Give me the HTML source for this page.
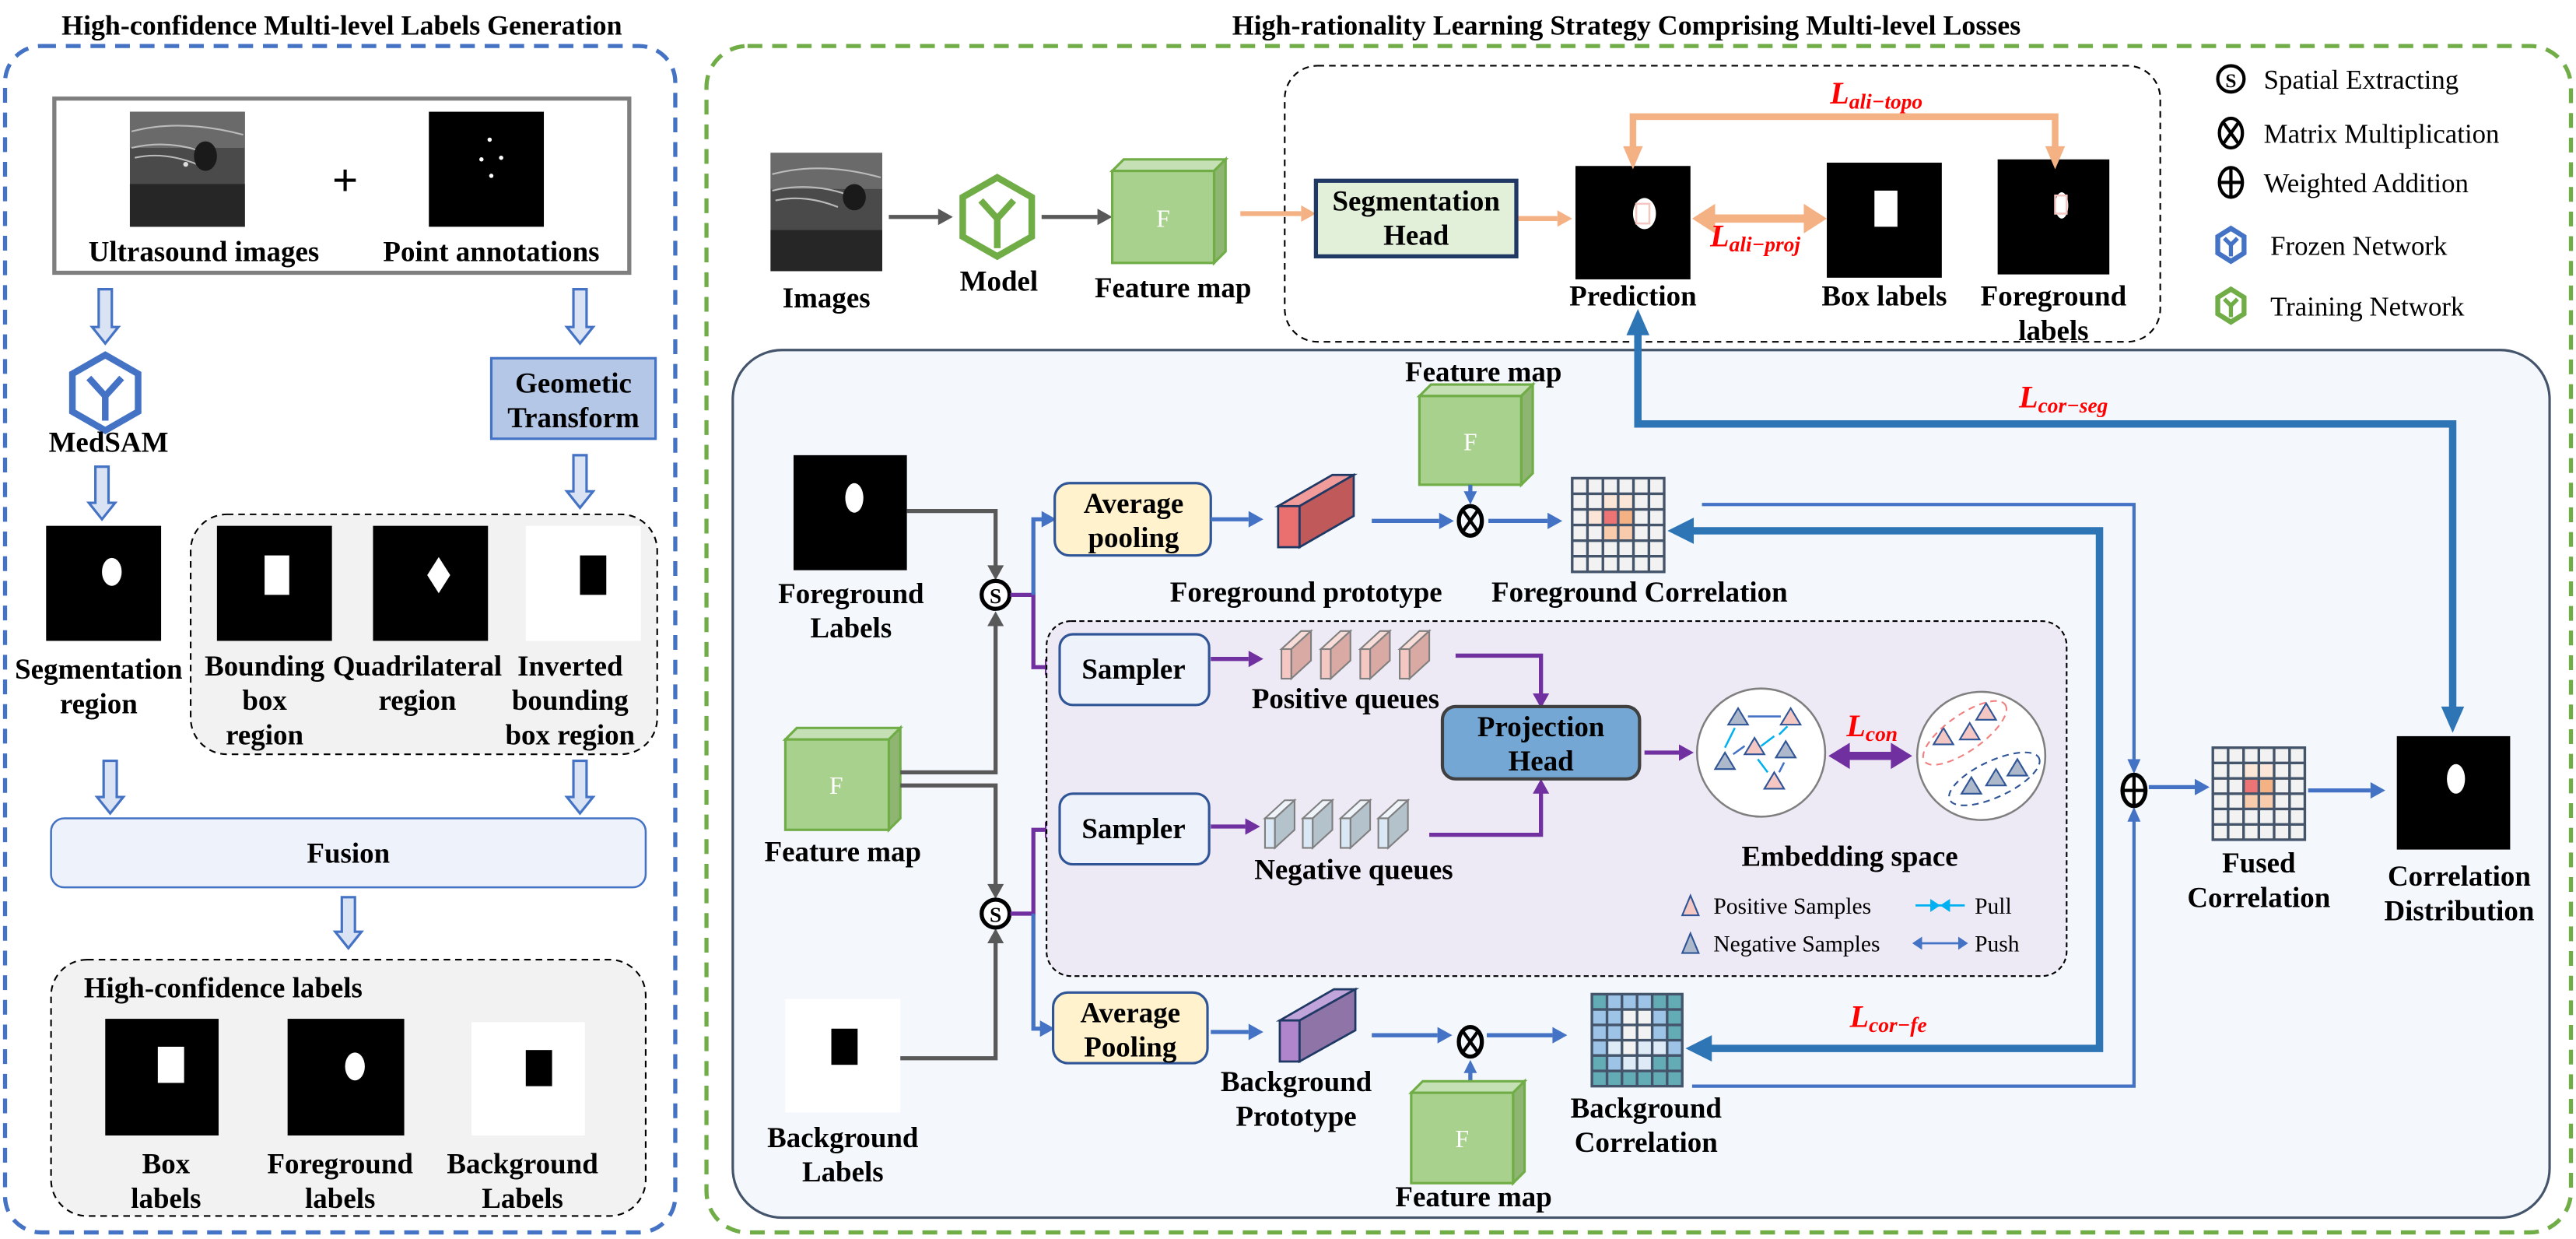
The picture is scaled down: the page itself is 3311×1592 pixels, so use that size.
<!DOCTYPE html>
<html><head><meta charset="utf-8"><style>html,body{margin:0;padding:0;background:#fff}svg{display:block}text{font-family:"Liberation Serif",serif}</style></head>
<body>
<svg xmlns="http://www.w3.org/2000/svg" width="3311" height="1592" viewBox="0 0 1568 754">
<rect width="1568" height="754" fill="#fff"/>
<g font-weight="bold" font-size="17" text-anchor="middle" fill="#000">
<text x="208" y="21">High-confidence Multi-level Labels Generation</text>
<text x="990" y="21">High-rationality Learning Strategy Comprising Multi-level Losses</text>
</g>
<rect x="3" y="28" width="408" height="722" rx="22" fill="none" stroke="#4472c4" stroke-width="2.5" stroke-dasharray="9,6"/>
<rect x="430" y="28" width="1135" height="722" rx="25" fill="none" stroke="#70ad47" stroke-width="2.5" stroke-dasharray="9,6"/>

<!-- LEFT -->
<rect x="33" y="60" width="350" height="106" fill="#fff" stroke="#7f7f7f" stroke-width="2.5"/>
<g>
<rect x="79" y="68" width="70" height="70" fill="#4a4a4a"/>
<rect x="79" y="68" width="70" height="22" fill="#6a6a6a"/>
<rect x="79" y="112" width="70" height="26" fill="#262626"/>
<path d="M80,80 Q110,72 148,82 M80,90 Q105,84 130,95 M82,96 Q100,92 120,100" stroke="#bbb" stroke-width="1" fill="none"/>
<ellipse cx="125" cy="95" rx="7" ry="9" fill="#1a1a1a"/>
<circle cx="113" cy="100" r="1.5" fill="#ddd"/>
</g>
<text x="210" y="119" font-size="28" font-weight="bold" text-anchor="middle">+</text>
<rect x="261" y="68" width="70" height="70" fill="#000"/>
<circle cx="298" cy="85" r="1.3" fill="#fff"/><circle cx="293" cy="97" r="1.3" fill="#fff"/><circle cx="305" cy="96" r="1.3" fill="#fff"/><circle cx="299" cy="107" r="1.3" fill="#fff"/>
<g font-weight="bold" font-size="17.5" text-anchor="middle">
<text x="124" y="159">Ultrasound images</text><text x="299" y="159">Point annotations</text>
</g>
<g fill="#dae3f3" stroke="#4472c4" stroke-width="1.5">
<polygon points="60,176 68,176 68,199 72,199 64,209 56,199 60,199"/>
<polygon points="349,176 357,176 357,199 361,199 353,209 345,199 349,199"/>
<polygon points="58,284 66,284 66,306 70,306 62,316 54,306 58,306"/>
<polygon points="349,277 357,277 357,299 361,299 353,309 345,299 349,299"/>
<polygon points="63,463 71,463 71,485 75,485 67,495 59,485 63,485"/>
<polygon points="349,463 357,463 357,485 361,485 353,495 345,485 349,485"/>
<polygon points="208,546 216,546 216,567 220,567 212,577 204,567 208,567"/>
</g>
<polygon points="64,216 84,227.5 84,250.5 64,262 44,250.5 44,227.5" fill="none" stroke="#4472c4" stroke-width="4"/>
<path d="M54,230 L64,241 L74,230 M64,241 V256" fill="none" stroke="#4472c4" stroke-width="4"/>
<text x="66" y="275" font-weight="bold" font-size="17.5" text-anchor="middle">MedSAM</text>
<rect x="299" y="218" width="100" height="49" fill="#b4c7e7" stroke="#4472c4" stroke-width="1.5"/>
<g font-weight="bold" font-size="17.5" text-anchor="middle">
<text x="349" y="239">Geometic</text><text x="349" y="260">Transform</text></g>
<rect x="28" y="320" width="70" height="70" fill="#000"/>
<ellipse cx="68" cy="348" rx="6" ry="8.5" fill="#fff"/>
<rect x="116" y="313" width="284" height="146" rx="22" fill="#f2f2f2" stroke="#000" stroke-dasharray="4,3"/>
<rect x="132" y="320" width="70" height="70" fill="#000"/><rect x="161" y="338" width="15" height="24" fill="#fff"/>
<rect x="227" y="320" width="70" height="70" fill="#000"/><polygon points="267,339 274,350 267,361 260,350" fill="#fff"/>
<rect x="320" y="320" width="70" height="70" fill="#fff"/><rect x="353" y="338" width="16" height="24" fill="#000"/>
<g font-weight="bold" font-size="17.5" text-anchor="middle">
<text x="60" y="413">Segmentation</text><text x="60" y="434">region</text>
<text x="161" y="411">Bounding</text><text x="161" y="432">box</text><text x="161" y="453">region</text>
<text x="254" y="411">Quadrilateral</text><text x="254" y="432">region</text>
<text x="347" y="411">Inverted</text><text x="347" y="432">bounding</text><text x="347" y="453">box region</text>
</g>
<rect x="31" y="498" width="362" height="42" rx="8" fill="#eef3fb" stroke="#4472c4" stroke-width="1.2"/>
<text x="212" y="525" font-weight="bold" font-size="17.5" text-anchor="middle">Fusion</text>
<rect x="31" y="584" width="362" height="156" rx="22" fill="#f2f2f2" stroke="#000" stroke-dasharray="4,3"/>
<text x="51" y="607" font-weight="bold" font-size="17.5">High-confidence labels</text>
<rect x="64" y="620" width="69" height="71" fill="#000"/><rect x="96" y="637" width="16" height="22" fill="#fff"/>
<rect x="175" y="620" width="71" height="71" fill="#000"/><ellipse cx="216" cy="649" rx="6" ry="8.5" fill="#fff"/>
<rect x="287" y="622" width="69" height="69" fill="#fff"/><rect x="320" y="639" width="16" height="22" fill="#000"/>
<g font-weight="bold" font-size="17.5" text-anchor="middle">
<text x="101" y="714">Box</text><text x="101" y="735">labels</text>
<text x="207" y="714">Foreground</text><text x="207" y="735">labels</text>
<text x="318" y="714">Background</text><text x="318" y="735">Labels</text>
</g>

<!-- RIGHT TOP -->
<rect x="782" y="40" width="533" height="168" rx="20" fill="#fff" stroke="#000" stroke-dasharray="4,3"/>
<g>
<rect x="469" y="93" width="68" height="72" fill="#4a4a4a"/>
<rect x="469" y="93" width="68" height="22" fill="#6a6a6a"/>
<rect x="469" y="140" width="68" height="25" fill="#262626"/>
<path d="M470,106 Q500,98 536,108 M470,116 Q495,110 520,120 M472,122 Q490,118 510,126" stroke="#bbb" stroke-width="1" fill="none"/>
<ellipse cx="520" cy="120" rx="7" ry="8" fill="#1a1a1a"/>
</g>
<g stroke="#595959" stroke-width="2.5" fill="#595959">
<line x1="541" y1="132" x2="572" y2="132"/><polygon points="580,132 571,127 571,137" stroke="none"/>
<line x1="634" y1="132" x2="668" y2="132"/><polygon points="677,132 668,127 668,137" stroke="none"/>
</g>
<polygon points="607,108 628,120 628,144 607,156 586,144 586,120" fill="none" stroke="#70ad47" stroke-width="4"/>
<path d="M597,122 L607,133 L617,122 M607,133 V151" fill="none" stroke="#70ad47" stroke-width="4"/>
<g stroke="#70ad47" stroke-width="1.5">
<polygon points="677,104 684,97 746,97 739,104" fill="#c5e0b4"/>
<polygon points="739,104 746,97 746,153 739,160" fill="#8fb573"/>
<rect x="677" y="104" width="62" height="56" fill="#a9d18e"/></g>
<text x="708" y="138" font-family="Liberation Sans,sans-serif" font-size="15" fill="#fff" text-anchor="middle">F</text>
<g font-weight="bold" font-size="17.5" text-anchor="middle">
<text x="503" y="187">Images</text><text x="608" y="177">Model</text><text x="714" y="181">Feature map</text></g>
<g stroke="#f4b183" stroke-width="3" fill="#f4b183">
<line x1="755" y1="130" x2="792" y2="130"/><polygon points="801,130 792,125 792,135" stroke="none"/>
<line x1="924" y1="133" x2="948" y2="133"/><polygon points="957,133 948,128 948,138" stroke="none"/>
</g>
<rect x="801" y="110" width="122" height="46" fill="#e2f0d9" stroke="#1f3864" stroke-width="2.5"/>
<g font-weight="bold" font-size="17.5" text-anchor="middle">
<text x="862" y="128">Segmentation</text><text x="862" y="149">Head</text></g>
<rect x="959" y="101" width="70" height="69" fill="#000"/>
<ellipse cx="1001" cy="130" rx="7" ry="9.5" fill="#fff"/><rect x="996" y="124" width="8" height="12" fill="none" stroke="#f4c7c3" stroke-width="1.2"/>
<rect x="1112" y="99" width="70" height="70" fill="#000"/><rect x="1141" y="116" width="14" height="22" fill="#fff"/>
<rect x="1216" y="97" width="68" height="70" fill="#000"/>
<ellipse cx="1255" cy="125" rx="4" ry="8" fill="#fff"/><rect x="1251" y="119" width="7" height="11" fill="none" stroke="#f4c7c3" stroke-width="1.2"/>
<g font-weight="bold" font-size="17.5" text-anchor="middle">
<text x="994" y="186">Prediction</text><text x="1147" y="186">Box labels</text><text x="1250" y="186">Foreground</text><text x="1250" y="207">labels</text></g>
<polyline points="994,93 994,71 1251,71 1251,93" fill="none" stroke="#f4b183" stroke-width="4"/>
<polygon points="994,103 988,89 1000,89" fill="#f4b183"/><polygon points="1251,103 1245,89 1257,89" fill="#f4b183"/>
<line x1="1042" y1="133" x2="1100" y2="133" stroke="#f4b183" stroke-width="5"/>
<polygon points="1030,133 1044,124 1044,142" fill="#f4b183"/><polygon points="1112,133 1098,124 1098,142" fill="#f4b183"/>
<g fill="#ff0000" font-weight="bold" font-style="italic">
<text x="1114" y="63" font-size="19">L<tspan font-size="13" dy="3">ali−topo</tspan></text>
<text x="1041" y="150" font-size="19">L<tspan font-size="13" dy="3">ali−proj</tspan></text>
</g>
<g font-size="16.5">
<circle cx="1358" cy="48" r="8" fill="none" stroke="#000" stroke-width="2"/><text x="1358" y="53" font-size="12" font-weight="bold" text-anchor="middle">S</text>
<text x="1378" y="54">Spatial Extracting</text>
<ellipse cx="1358" cy="81" rx="7" ry="9" fill="none" stroke="#000" stroke-width="2"/><path d="M1353,74 L1363,88 M1363,74 L1353,88" stroke="#000" stroke-width="2"/>
<text x="1378" y="87">Matrix Multiplication</text>
<ellipse cx="1358" cy="111" rx="7" ry="9" fill="none" stroke="#000" stroke-width="2"/><path d="M1351,111 H1365 M1358,102 V120" stroke="#000" stroke-width="2"/>
<text x="1378" y="117">Weighted Addition</text>
<polygon points="1358,139 1366,144 1366,154 1358,159 1350,154 1350,144" fill="none" stroke="#4472c4" stroke-width="3"/>
<path d="M1354,145 L1358,149 L1362,145 M1358,149 V156" stroke="#4472c4" stroke-width="2.5" fill="none"/>
<text x="1382" y="155">Frozen Network</text>
<polygon points="1358,176 1366,181 1366,191 1358,196 1350,191 1350,181" fill="none" stroke="#70ad47" stroke-width="3"/>
<path d="M1354,182 L1358,186 L1362,182 M1358,186 V193" stroke="#70ad47" stroke-width="2.5" fill="none"/>
<text x="1382" y="192">Training Network</text>
</g>

<rect x="446" y="213" width="1106" height="528" rx="30" fill="#f4f8fd" stroke="#44546a" stroke-width="1.5"/>
<polyline points="997,200 997,258 1493,258 1493,432" fill="none" stroke="#2e75b6" stroke-width="4.5"/>
<polygon points="997,188 990,204 1004,204" fill="#2e75b6"/><polygon points="1493,446 1486,430 1500,430" fill="#2e75b6"/>
<text x="1229" y="248" fill="#ff0000" font-weight="bold" font-style="italic" font-size="19">L<tspan font-size="13" dy="3">cor−seg</tspan></text>
<g stroke="#70ad47" stroke-width="1.5">
<polygon points="864,241 871,234 933,234 926,241" fill="#c5e0b4"/>
<polygon points="926,241 933,234 933,288 926,295" fill="#8fb573"/>
<rect x="864" y="241" width="62" height="54" fill="#a9d18e"/></g>
<text x="895" y="274" font-family="Liberation Sans,sans-serif" font-size="15" fill="#fff" text-anchor="middle">F</text>
<text x="903" y="232" font-weight="bold" font-size="17.5" text-anchor="middle">Feature map</text>
<rect x="483" y="277" width="69" height="70" fill="#000"/><ellipse cx="520" cy="303" rx="5.5" ry="9" fill="#fff"/>
<g stroke="#70ad47" stroke-width="1.5">
<polygon points="478,450 485,443 548,443 541,450" fill="#c5e0b4"/>
<polygon points="541,450 548,443 548,498 541,505" fill="#8fb573"/>
<rect x="478" y="450" width="63" height="55" fill="#a9d18e"/></g>
<text x="509" y="483" font-family="Liberation Sans,sans-serif" font-size="15" fill="#fff" text-anchor="middle">F</text>
<rect x="478" y="608" width="70" height="69" fill="#fff"/><rect x="506" y="626" width="16" height="22" fill="#000"/>
<g font-weight="bold" font-size="17.5" text-anchor="middle">
<text x="518" y="367">Foreground</text><text x="518" y="388">Labels</text>
<text x="513" y="524">Feature map</text>
<text x="513" y="698">Background</text><text x="513" y="719">Labels</text></g>
<g fill="none" stroke="#595959" stroke-width="2.5">
<polyline points="552,311 606,311 606,346"/><polyline points="548,470 606,470 606,379"/>
<polyline points="548,478 606,478 606,540"/><polyline points="548,644 606,644 606,572"/></g>
<g fill="#595959"><polygon points="606,353 601,344 611,344"/><polygon points="606,372 601,381 611,381"/><polygon points="606,547 601,538 611,538"/><polygon points="606,565 601,574 611,574"/></g>
<g fill="#fff" stroke="#000" stroke-width="2.5"><circle cx="606" cy="362" r="8.5"/><circle cx="606" cy="556" r="8.5"/></g>
<g font-weight="bold" font-size="13" text-anchor="middle"><text x="606" y="367">S</text><text x="606" y="561">S</text></g>
<polyline points="615,362 629,362 629,406 638,406" fill="none" stroke="#7030a0" stroke-width="2.5"/>
<polygon points="645,406 636,401 636,411" fill="#7030a0"/>
<polyline points="629,362 629,316 635,316" fill="none" stroke="#4472c4" stroke-width="2.5"/>
<polygon points="643,316 634,311 634,321" fill="#4472c4"/>
<polyline points="615,556 629,556 629,505 638,505" fill="none" stroke="#7030a0" stroke-width="2.5"/>
<polygon points="645,505 636,500 636,510" fill="#7030a0"/>
<polyline points="629,556 629,626 634,626" fill="none" stroke="#4472c4" stroke-width="2.5"/>
<polygon points="642,626 633,621 633,631" fill="#4472c4"/>
<rect x="642" y="294" width="95" height="44" rx="9" fill="#fff2cc" stroke="#2f5597" stroke-width="1.5"/>
<g font-weight="bold" font-size="17.5" text-anchor="middle"><text x="690" y="312">Average</text><text x="690" y="333">pooling</text></g>
<g stroke="#1f3864" stroke-width="1.3">
<polygon points="778,308 811,289 824,289 791,308" fill="#f19b9b"/>
<polygon points="791,308 824,289 824,314 791,333" fill="#c05a5a"/>
<rect x="778" y="308" width="13" height="25" fill="#ea7070"/></g>
<g stroke="#4472c4" stroke-width="2.5">
<line x1="737" y1="316" x2="760" y2="316"/><line x1="835" y1="317" x2="876" y2="317"/><line x1="906" y1="317" x2="942" y2="317"/>
<line x1="895" y1="295" x2="895" y2="301"/>
<line x1="737" y1="628" x2="760" y2="628"/><line x1="835" y1="630" x2="875" y2="630"/><line x1="905" y1="630" x2="945" y2="630"/>
<line x1="895" y1="658" x2="895" y2="651"/></g>
<g fill="#4472c4"><polygon points="769,316 760,311 760,321"/><polygon points="885,317 876,312 876,322"/><polygon points="951,317 942,312 942,322"/><polygon points="895,307 891,299 899,299"/>
<polygon points="769,628 760,623 760,633"/><polygon points="884,630 875,625 875,635"/><polygon points="954,630 945,625 945,635"/><polygon points="895,645 891,653 899,653"/></g>
<g fill="none" stroke="#000" stroke-width="2.5"><ellipse cx="895" cy="317" rx="7" ry="9"/><ellipse cx="895" cy="634" rx="7" ry="9"/>
<path d="M890,310 L900,324 M900,310 L890,324 M890,627 L900,641 M900,627 L890,641" stroke-width="2"/></g>
<rect x="957" y="291" width="56" height="57" fill="#f2f2f2"/>
<rect x="975.7" y="300.5" width="9.3" height="9.5" fill="#fbe5d6"/><rect x="985" y="300.5" width="9.3" height="9.5" fill="#fbe5d6"/>
<rect x="975.7" y="310" width="9.3" height="9.5" fill="#ec7474"/><rect x="985" y="310" width="9.3" height="9.5" fill="#f4b183"/>
<rect x="966.3" y="310" width="9.4" height="9.5" fill="#fbe5d6"/>
<rect x="975.7" y="319.5" width="9.3" height="9.5" fill="#f8cbad"/><rect x="985" y="319.5" width="9.3" height="9.5" fill="#f8cbad"/>
<g stroke="#44546a" stroke-width="1.6" fill="none"><rect x="957" y="291" width="56" height="57"/>
<path d="M966.3,291V348M975.7,291V348M985,291V348M994.3,291V348M1003.7,291V348M957,300.5H1013M957,310H1013M957,319.5H1013M957,329H1013M957,338.5H1013"/></g>
<g font-weight="bold" font-size="17.5" text-anchor="middle"><text x="795" y="366">Foreground prototype</text><text x="998" y="366">Foreground Correlation</text></g>
<rect x="637" y="378" width="621" height="216" rx="15" fill="#eeeaf5" stroke="#000" stroke-dasharray="3,2"/>
<rect x="645" y="386" width="91" height="43" rx="8" fill="#eef2fb" stroke="#2f5597" stroke-width="1.5"/>
<rect x="645" y="483" width="91" height="43" rx="8" fill="#eef2fb" stroke="#2f5597" stroke-width="1.5"/>
<g font-weight="bold" font-size="17.5" text-anchor="middle"><text x="690" y="413">Sampler</text><text x="690" y="510">Sampler</text></g>
<g stroke="#7030a0" stroke-width="2.5" fill="none">
<line x1="737" y1="401" x2="760" y2="401"/><line x1="737" y1="503" x2="758" y2="503"/>
<polyline points="886,399 938,399 938,423"/><polyline points="870,508 938,508 938,482"/>
<line x1="1001" y1="458" x2="1022" y2="458"/></g>
<g fill="#7030a0"><polygon points="769,401 760,396 760,406"/><polygon points="767,503 758,498 758,508"/><polygon points="938,431 933,422 943,422"/><polygon points="938,474 933,483 943,483"/><polygon points="1031,458 1022,453 1022,463"/></g>
<g stroke="#7f7f7f" stroke-width="1">
<polygon points="780,395 792,384 798,384 786,395" fill="#f8dcd8"/><polygon points="786,395 798,384 798,402 786,413" fill="#d9a9a4"/><rect x="780" y="395" width="6" height="18" fill="#f4c7c3"/>
<polygon points="804,395 816,384 822,384 810,395" fill="#f8dcd8"/><polygon points="810,395 822,384 822,402 810,413" fill="#d9a9a4"/><rect x="804" y="395" width="6" height="18" fill="#f4c7c3"/>
<polygon points="828,395 840,384 846,384 834,395" fill="#f8dcd8"/><polygon points="834,395 846,384 846,402 834,413" fill="#d9a9a4"/><rect x="828" y="395" width="6" height="18" fill="#f4c7c3"/>
<polygon points="852,395 864,384 870,384 858,395" fill="#f8dcd8"/><polygon points="858,395 870,384 870,402 858,413" fill="#d9a9a4"/><rect x="852" y="395" width="6" height="18" fill="#f4c7c3"/>
<polygon points="770,498 782,487 788,487 776,498" fill="#eef4fa"/><polygon points="776,498 788,487 788,505 776,516" fill="#b4c2cc"/><rect x="770" y="498" width="6" height="18" fill="#dae8f5"/>
<polygon points="793,498 805,487 811,487 799,498" fill="#eef4fa"/><polygon points="799,498 811,487 811,505 799,516" fill="#b4c2cc"/><rect x="793" y="498" width="6" height="18" fill="#dae8f5"/>
<polygon points="816,498 828,487 834,487 822,498" fill="#eef4fa"/><polygon points="822,498 834,487 834,505 822,516" fill="#b4c2cc"/><rect x="816" y="498" width="6" height="18" fill="#dae8f5"/>
<polygon points="839,498 851,487 857,487 845,498" fill="#eef4fa"/><polygon points="845,498 857,487 857,505 845,516" fill="#b4c2cc"/><rect x="839" y="498" width="6" height="18" fill="#dae8f5"/>
</g>
<g font-weight="bold" font-size="17.5" text-anchor="middle"><text x="819" y="431">Positive queues</text><text x="824" y="535">Negative queues</text></g>
<rect x="878" y="430" width="120" height="44" rx="8" fill="#75a7d4" stroke="#404040" stroke-width="2"/>
<g font-weight="bold" font-size="17.5" text-anchor="middle"><text x="938" y="448">Projection</text><text x="938" y="469">Head</text></g>
<circle cx="1072" cy="458" r="39" fill="#fff" stroke="#7f7f7f" stroke-width="1.2"/>
<circle cx="1206" cy="460" r="39" fill="#fff" stroke="#7f7f7f" stroke-width="1.2"/>
<g stroke="#2f5597" stroke-width="1">
<polygon points="1058,431 1064,441 1052,441" fill="#adb9ca"/><polygon points="1090,431 1096,441 1084,441" fill="#f4c7c3"/>
<polygon points="1068,449 1074,459 1062,459" fill="#f4c7c3"/><polygon points="1087,451 1093,461 1081,461" fill="#adb9ca"/>
<polygon points="1050,458 1056,468 1044,468" fill="#adb9ca"/><polygon points="1080,470 1086,480 1074,480" fill="#f4c7c3"/>
<polygon points="1209,428 1215,438 1203,438" fill="#f4c7c3"/><polygon points="1183,443 1189,453 1177,453" fill="#f4c7c3"/><polygon points="1199,440 1205,450 1193,450" fill="#f4c7c3"/>
<polygon points="1200,473 1206,483 1194,483" fill="#adb9ca"/><polygon points="1215,468 1221,478 1209,478" fill="#adb9ca"/><polygon points="1228,462 1234,472 1222,472" fill="#adb9ca"/>
</g>
<g stroke="#4472c4" stroke-width="1.2" fill="none"><line x1="1064" y1="436" x2="1084" y2="436"/><line x1="1062" y1="454" x2="1055" y2="459"/><line x1="1086" y1="464" x2="1083" y2="470"/></g>
<g stroke="#00b0f0" stroke-width="1.2" fill="none"><line x1="1056" y1="443" x2="1050" y2="455"/><line x1="1088" y1="442" x2="1083" y2="447"/><line x1="1072" y1="454" x2="1080" y2="448"/><line x1="1070" y1="462" x2="1076" y2="470"/></g>
<ellipse cx="1196" cy="446" rx="30" ry="11" transform="rotate(-35 1196 446)" fill="none" stroke="#f08080" stroke-dasharray="4,3"/>
<ellipse cx="1214" cy="474" rx="30" ry="11" transform="rotate(-25 1214 474)" fill="none" stroke="#2f5597" stroke-dasharray="4,3"/>
<line x1="1124" y1="460" x2="1153" y2="460" stroke="#7030a0" stroke-width="5"/>
<polygon points="1113,460 1126,452 1126,468" fill="#7030a0"/><polygon points="1164,460 1151,452 1151,468" fill="#7030a0"/>
<text x="1124" y="448" fill="#ff0000" font-weight="bold" font-style="italic" font-size="19">L<tspan font-size="13" dy="3">con</tspan></text>
<text x="1126" y="527" font-weight="bold" font-size="17.5" text-anchor="middle">Embedding space</text>
<g font-size="14">
<polygon points="1029,545 1034,557 1024,557" fill="#f4c7c3" stroke="#2f5597"/><text x="1043" y="556">Positive Samples</text>
<polygon points="1029,568 1034,580 1024,580" fill="#adb9ca" stroke="#2f5597"/><text x="1043" y="579">Negative Samples</text>
<line x1="1166" y1="551" x2="1196" y2="551" stroke="#00b0f0" stroke-width="1.3"/><polygon points="1181,551 1175,547 1175,555" fill="#00b0f0"/><polygon points="1181,551 1187,547 1187,555" fill="#00b0f0"/>
<text x="1202" y="556">Pull</text>
<line x1="1168" y1="574" x2="1194" y2="574" stroke="#4472c4" stroke-width="1.3"/><polygon points="1164,574 1170,570 1170,578" fill="#4472c4"/><polygon points="1198,574 1192,570 1192,578" fill="#4472c4"/>
<text x="1202" y="579">Push</text></g>
<rect x="641" y="604" width="94" height="43" rx="9" fill="#fff2cc" stroke="#2f5597" stroke-width="1.5"/>
<g font-weight="bold" font-size="17.5" text-anchor="middle"><text x="688" y="622">Average</text><text x="688" y="643">Pooling</text></g>
<g stroke="#1f3864" stroke-width="1.3">
<polygon points="779,621 812,602 825,602 791,621" fill="#c1a5da"/>
<polygon points="791,621 825,602 825,627 791,646" fill="#8f74a8"/>
<rect x="779" y="621" width="12" height="25" fill="#b085cc"/></g>
<g stroke="#70ad47" stroke-width="1.5">
<polygon points="859,665 866,658 928,658 921,665" fill="#c5e0b4"/>
<polygon points="921,665 928,658 928,713 921,720" fill="#8fb573"/>
<rect x="859" y="665" width="62" height="55" fill="#a9d18e"/></g>
<text x="890" y="698" font-family="Liberation Sans,sans-serif" font-size="15" fill="#fff" text-anchor="middle">F</text>
<rect x="969" y="605" width="55" height="56" fill="#63abb5"/>
<g fill="#9dc3e6">
<rect x="978.2" y="605" width="27.5" height="9.3"/>
<rect x="969" y="614.3" width="18.3" height="18.7"/><rect x="1005.7" y="614.3" width="9.2" height="18.7"/>
<rect x="969" y="633" width="9.2" height="9.3"/><rect x="1014.8" y="633" width="9.2" height="9.3"/>
<rect x="978.2" y="642.3" width="9.1" height="9.4"/></g>
<g fill="#f2f2f2"><rect x="987.3" y="614.3" width="18.4" height="18.7"/><rect x="987.3" y="633" width="9.2" height="9.3"/></g>
<g fill="#deebf7"><rect x="978.2" y="633" width="9.1" height="9.3"/><rect x="996.5" y="633" width="18.3" height="9.3"/><rect x="987.3" y="642.3" width="18.4" height="9.4"/></g>
<g stroke="#44546a" stroke-width="1.6" fill="none"><rect x="969" y="605" width="55" height="56"/>
<path d="M978.2,605V661M987.3,605V661M996.5,605V661M1005.7,605V661M1014.8,605V661M969,614.3H1024M969,623.7H1024M969,633H1024M969,642.3H1024M969,651.7H1024"/></g>
<g font-weight="bold" font-size="17.5" text-anchor="middle">
<text x="789" y="664">Background</text><text x="789" y="685">Prototype</text>
<text x="897" y="734">Feature map</text>
<text x="1002" y="680">Background</text><text x="1002" y="701">Correlation</text></g>
<polyline points="1028,323 1278,323 1278,638 1038,638" fill="none" stroke="#2e75b6" stroke-width="4.5"/>
<polygon points="1015,323 1031,315 1031,331" fill="#2e75b6"/><polygon points="1026,638 1042,630 1042,646" fill="#2e75b6"/>
<text x="1126" y="625" fill="#ff0000" font-weight="bold" font-style="italic" font-size="19">L<tspan font-size="13" dy="3">cor−fe</tspan></text>
<polyline points="1036,307 1299,307 1299,463" fill="none" stroke="#4472c4" stroke-width="2"/>
<polyline points="1030,661 1299,661 1299,499" fill="none" stroke="#4472c4" stroke-width="2"/>
<polygon points="1299,471 1295,462 1303,462" fill="#4472c4"/><polygon points="1299,491 1295,500 1303,500" fill="#4472c4"/>
<ellipse cx="1299" cy="481" rx="7" ry="9.5" fill="#fff" stroke="#000" stroke-width="2.5"/>
<path d="M1292,481 H1306 M1299,472 V490" stroke="#000" stroke-width="2"/>
<line x1="1308" y1="479" x2="1336" y2="479" stroke="#4472c4" stroke-width="2.5"/><polygon points="1345,479 1336,474 1336,484" fill="#4472c4"/>
<line x1="1405" y1="481" x2="1443" y2="481" stroke="#4472c4" stroke-width="2.5"/><polygon points="1452,481 1443,476 1443,486" fill="#4472c4"/>
<rect x="1347" y="455" width="56" height="56" fill="#f2f2f2"/>
<rect x="1365.7" y="464.3" width="18.6" height="9.4" fill="#fbe5d6"/>
<rect x="1365.7" y="473.7" width="9.3" height="9.3" fill="#ec7474"/><rect x="1375" y="473.7" width="9.3" height="9.3" fill="#f4b183"/>
<rect x="1365.7" y="483" width="18.6" height="9.3" fill="#f8cbad"/>
<g stroke="#44546a" stroke-width="1.6" fill="none"><rect x="1347" y="455" width="56" height="56"/>
<path d="M1356.3,455V511M1365.7,455V511M1375,455V511M1384.3,455V511M1393.7,455V511M1347,464.3H1403M1347,473.7H1403M1347,483H1403M1347,492.3H1403M1347,501.7H1403"/></g>
<rect x="1459" y="448" width="69" height="69" fill="#000"/><ellipse cx="1495" cy="474" rx="5.5" ry="9" fill="#fff"/>
<g font-weight="bold" font-size="17.5" text-anchor="middle">
<text x="1375" y="531">Fused</text><text x="1375" y="552">Correlation</text>
<text x="1497" y="539">Correlation</text><text x="1497" y="560">Distribution</text></g>
</svg>
</body></html>
